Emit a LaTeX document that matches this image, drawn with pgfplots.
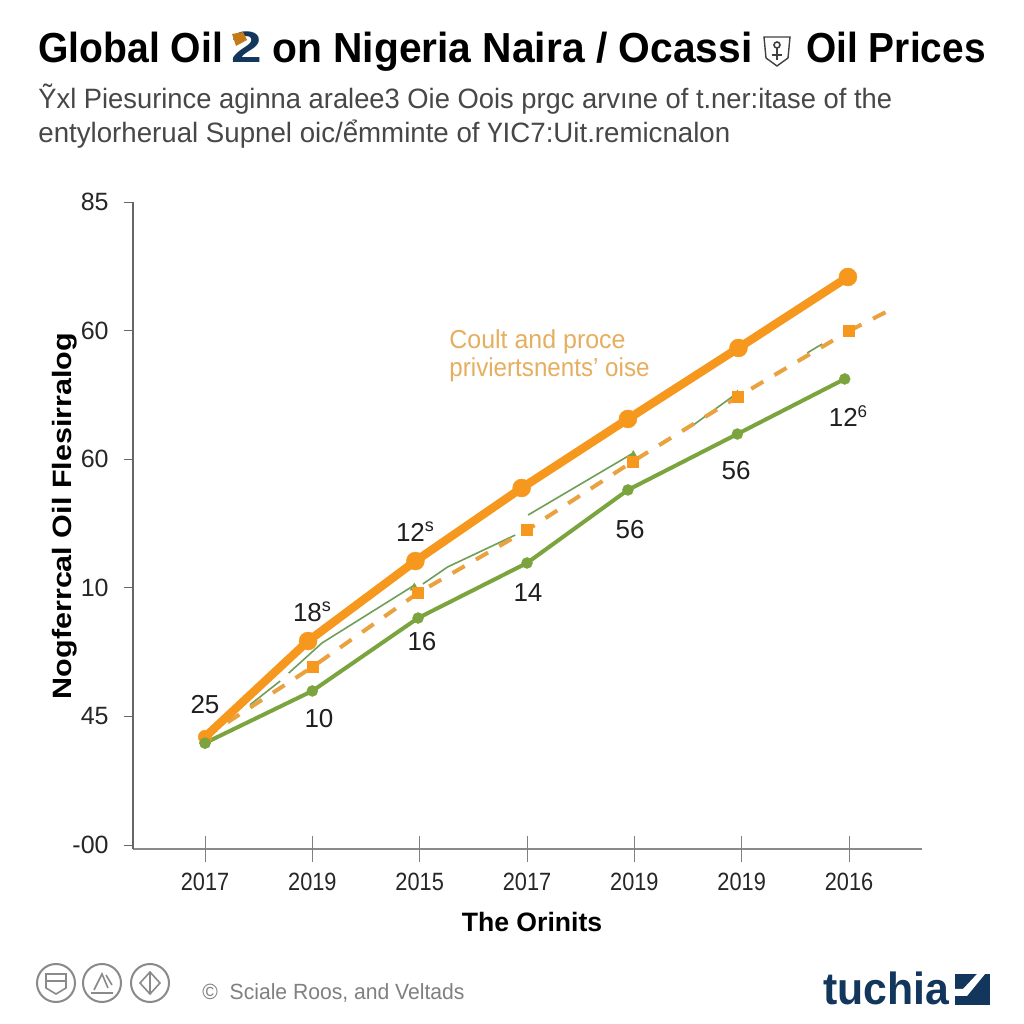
\documentclass[border=0pt]{standalone}
\usepackage{fontspec}
\setmainfont{Liberation Sans}
\usepackage{graphicx}
\usepackage{pgfplots}
\pgfplotsset{compat=1.18}
\definecolor{oo}{HTML}{F5981D}
\definecolor{od}{HTML}{E9A23F}
\definecolor{ot}{HTML}{E6AE5F}
\definecolor{gg}{HTML}{7CA43E}
\definecolor{gt}{HTML}{6F9E57}
\definecolor{navy}{HTML}{12365C}
\definecolor{axg}{HTML}{8A8A8A}
\newcommand{\fs}[1]{\fontsize{#1}{#1}\selectfont}
\begin{document}
\begin{tikzpicture}
\path[use as bounding box,fill=white] (0,0) rectangle (512pt,512pt);
\begin{axis}[
  at={(66.5pt,87.5pt)},anchor=south west,
  scale only axis,width=394.5pt,height=323.5pt,
  xmin=-0.671,xmax=6.68,ymin=-0.031,ymax=5,
  axis x line=bottom,axis y line=left,
  axis line style={-},
  x axis line style={draw=axg,line width=1.2pt},
  y axis line style={draw=black!60,line width=0.6pt},
  xtick=\empty,
  ytick={0,1,2,3,4,5},
  yticklabels={-00\hspace{-2.5pt},45,10,60,60,85},
  tick align=outside,major tick length=4.5pt,
  ytick style={draw=black!60,line width=0.5pt},
  yticklabel style={font=\fs{12.5},text=black!85,inner sep=0pt,xshift=-7.5pt},
  extra x ticks={0,1,2,3,4,5,6},
  extra x tick labels={\scalebox{.87}[1]{2017},\scalebox{.87}[1]{2019},\scalebox{.87}[1]{2015},\scalebox{.87}[1]{2017},\scalebox{.87}[1]{2019},\scalebox{.87}[1]{2019},\scalebox{.87}[1]{2016}},
  extra x tick style={tick align=center,major tick length=12.5pt,
     xtick style={draw=black!50,line width=0.5pt},
     xticklabel style={font=\fs{12.5},text=black!85,inner sep=0pt,yshift=-5.5pt}},
  clip=false,unbounded coords=jump,
]
\addplot[gt,line width=0.8pt] coordinates
 {(0.42,1.091)(0.70,1.275)(nan,nan)(0.78,1.337)(1.09,1.571)(1.95,2.02)(nan,nan)(2.03,2.03)(2.26,2.162)(2.89,2.41)(nan,nan)(3.01,2.566)(3.99,3.048)(nan,nan)(4.55,3.266)(4.96,3.515)(nan,nan)(5.61,3.826)(5.75,3.896)};
\addplot[only marks,gt,mark=triangle*,mark size=2.4pt,mark options={fill=gg,draw=gg,line width=.2pt}] coordinates
 {(1.95,2.0)(3.99,3.03)(4.96,3.5)};
\addplot[od,line width=2pt,dash pattern=on 7pt off 6.5pt,mark=square*,mark size=2.75pt,mark indices={2,3,4,5,6,7},mark options={solid,fill=oo,draw=oo,line width=.2pt}] coordinates
 {(0,.84)(1,1.384)(1.985,1.96)(3,2.449)(3.98,2.98)(4.96,3.484)(6,3.997)};
\addplot[od,line width=2pt,dash pattern=on 7pt off 6.5pt] coordinates {(6,3.997)(6.38,4.16)};
\addplot[gg,line width=2pt,mark=*,mark size=2.75pt,mark options={fill=gg,draw=gg,line width=.2pt}] coordinates
 {(0,.793)(1,1.198)(1.985,1.765)(3,2.193)(3.94,2.761)(4.96,3.196)(5.96,3.624)};
\addplot[oo,line width=4.2pt] coordinates
 {(0,.84)(.96,1.586)(1.96,2.208)(2.95,2.776)(3.94,3.313)(4.97,3.865)(5.99,4.417)};
\addplot[only marks,mark=*,mark size=4.5pt,mark options={fill=oo,draw=oo,line width=.2pt}] coordinates
 {(.96,1.586)(1.96,2.208)(2.95,2.776)(3.94,3.313)(4.97,3.865)(5.99,4.417)};
\addplot[only marks,mark=*,mark size=3.4pt,mark options={fill=oo,draw=oo,line width=.2pt}] coordinates {(0,.84)};
\addplot[only marks,mark=*,mark size=2.75pt,mark options={fill=gg,draw=gg,line width=.2pt}] coordinates {(0,.793)};
\end{axis}
\begin{scope}[x=.5pt,y=-.5pt,shift={(0,512pt)}]
% title
\node[anchor=base west,inner sep=0] at (38,63) {\scalebox{.93}[1]{\bfseries\fs{21}Global Oil}};
\node[anchor=base west,inner sep=0] at (272,63) {\scalebox{.97}[1]{\bfseries\fs{21}on Nigeria Naira / Ocassi}};
\node[anchor=base west,inner sep=0] at (806,63) {\scalebox{.925}[1]{\bfseries\fs{21}Oil Prices}};
\node[anchor=base,inner sep=0,text=navy] at (247,63) {\scalebox{1.25}[1]{\bfseries\fs{22}2}};
\fill[oo!80!black] (232,34) -- (243,32) -- (247,40) -- (236,46) -- cycle;
\draw[black!75,line width=.7pt] (764,37) -- (790,37) -- (788,58) -- (777,66) -- (766,58) -- cycle;
\draw[black!75,line width=.8pt] (777,45) circle (3);
\draw[black!75,line width=.8pt] (777,48) -- (777,60) (772,55) -- (782,55);
% subtitle
\node[anchor=west,inner sep=0,text=black!72] at (38,99) {\scalebox{.976}[1]{\fs{14}Ỹxl Piesurince aginna aralee3 Oie Oois prgc arvıne of t.ner:itase of the}};
\node[anchor=west,inner sep=0,text=black!72] at (38,134) {\scalebox{.988}[1]{\fs{14}entylorherual Supnel oic/ểmminte of ҮIC7:Uit.remicnalon}};
% y label, x label
\node[rotate=90,inner sep=0] at (65,516) {\scalebox{1.06}[.92]{\bfseries\fs{14.4}Nogferrcal Oil Flesirralog}};
\node[inner sep=0] at (532,922) {\bfseries\fs{13.3}The Orinits};
% annotation
\node[anchor=west,inner sep=0,text=ot] at (449,342) {\scalebox{.96}[1]{\fs{13}Coult and proce}};
\node[anchor=west,inner sep=0,text=ot] at (449,370) {\scalebox{.93}[1]{\fs{13}priviertsnents' oise}};
% data labels
\foreach \x/\y/\t in {205/705/25,319/719/10,422/642/16,528/593/14,630/530/56,736/471/56}
  \node[inner sep=0,text=black!88] at (\x,\y) {\fs{13}\t};
\node[inner sep=0,text=black!88] at (312,612) {\fs{13}18{\fs{9}\raisebox{5pt}{s}}};
\node[inner sep=0,text=black!88] at (415,532) {\fs{13}12{\fs{9}\raisebox{5pt}{s}}};
\node[inner sep=0,text=black!88] at (848,416) {\fs{13}12{\fs{8.5}\raisebox{4.5pt}{6}}};
% footer icons
\foreach \x in {56,102,150} \draw[axg,line width=1pt] (\x,983) ellipse (19 and 19);
\draw[axg,line width=.8pt] (46,974) -- (66,974) -- (66,988) -- (56,994) -- (46,988) -- cycle (46,981) -- (66,981);
\draw[axg,line width=.8pt] (91,993) -- (113,993) (94,990) -- (102,974) -- (108,988) (106,975) -- (112,985);
\draw[axg,line width=.8pt] (150,972) -- (140,983) -- (150,994) -- (160,983) -- cycle (150,972) -- (150,994);
\node[anchor=west,inner sep=0,text=black!50] at (202,993) {\scalebox{.96}[1]{\fs{11}© \ Sciale Roos, and Veltads}};
% logo
\node[anchor=base west,inner sep=0,text=navy] at (823,1005) {\scalebox{.95}[1]{\bfseries\fs{22.5}tuchia}};
\fill[navy] (955,974) rectangle (990,1005);
\fill[white] (955,996) -- (967,996) -- (985,974) -- (977,974) -- (963,989) -- (955,989) -- cycle;
\end{scope}
\end{tikzpicture}
\end{document}
